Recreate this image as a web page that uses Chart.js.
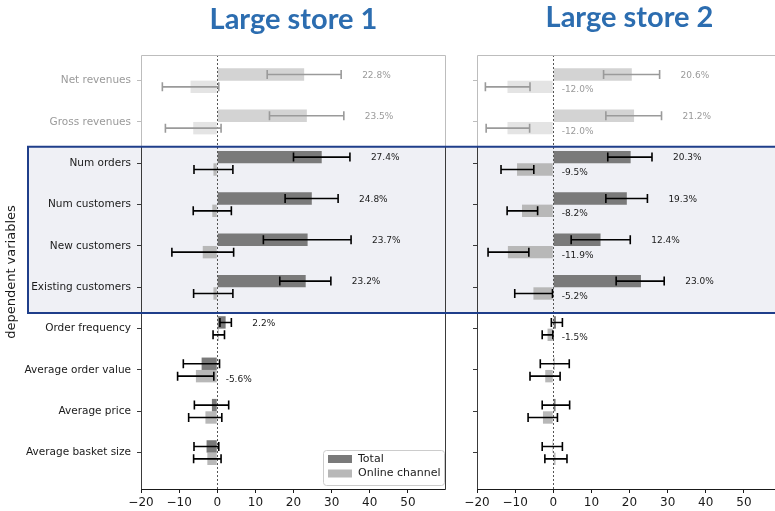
<!DOCTYPE html>
<html>
<head>
<meta charset="utf-8">
<script src="https://cdn.jsdelivr.net/npm/chart.js@4.4.1/dist/chart.umd.min.js"></script>
<style>
  html, body { margin: 0; padding: 0; background: #ffffff; overflow: hidden; }
  #wrap { position: relative; width: 775px; height: 511px; overflow: hidden; }
  canvas { position: absolute; top: 0; }
  #c1 { left: 0; }
  #c2 { left: 460px; }
</style>
</head>
<body>
<div id="wrap">
  <canvas id="c1" width="460" height="511"></canvas>
  <canvas id="c2" width="330" height="511"></canvas>
</div>
<script>
// Effect estimates (%) with confidence bounds, one row per dependent variable.
const categories = [
  'Net revenues', 'Gross revenues', 'Num orders', 'Num customers', 'New customers',
  'Existing customers', 'Order frequency', 'Average order value', 'Average price', 'Average basket size'
];
const xTicks = [-20, -10, 0, 10, 20, 30, 40, 50];
const seriesNames = ['Total', 'Online channel'];

// Large store 1
const store1Total    = [22.8, 23.5, 27.4, 24.8, 23.7, 23.2, 2.2, -4.1, -1.4, -2.8];
const store1TotalLo  = [13.1, 13.7, 20.0, 17.8, 12.1, 16.4, 0.7, -8.9, -6.0, -6.1];
const store1TotalHi  = [32.5, 33.2, 34.8, 31.7, 35.1, 29.8, 3.7, 0.6, 3.0, 0.4];
const store1Online   = [-7.0, -6.3, -1.0, -1.3, -3.8, -1.0, 0.4, -5.6, -3.1, -2.6];
const store1OnlineLo = [-14.4, -13.6, -6.1, -6.3, -11.9, -6.2, -1.1, -10.4, -7.5, -6.2];
const store1OnlineHi = [0.4, 1.0, 4.1, 3.7, 4.3, 4.1, 1.9, -0.9, 1.2, 1.0];

// Large store 2
const store2Total    = [20.6, 21.2, 20.3, 19.3, 12.4, 23.0, 0.7, 0.3, 0.6, -0.2];
const store2TotalLo  = [13.2, 13.8, 14.3, 13.8, 4.7, 16.5, -0.5, -3.4, -2.9, -2.9];
const store2TotalHi  = [27.9, 28.4, 25.9, 24.7, 20.2, 29.1, 2.4, 4.2, 4.3, 2.4];
const store2Online   = [-12.0, -12.0, -9.5, -8.2, -11.9, -5.2, -1.5, -2.1, -2.7, 0.6];
const store2OnlineLo = [-17.8, -17.6, -13.7, -12.1, -17.1, -10.1, -2.9, -6.1, -6.6, -2.2];
const store2OnlineHi = [-6.1, -6.2, -5.1, -4.1, -6.4, -0.2, -0.1, 1.8, 1.1, 3.6];

// Styling
const MUTED_ROWS = 2;               // leading rows drawn in muted grey
const BOX_SPAN = [1.6, 5.62];       // highlighted block, in row units
const COLORS = {
  total: '#7a7a7a', totalMuted: '#d3d3d3',
  online: '#b8b8b8', onlineMuted: '#e4e4e4',
  err: '#000000', errMuted: '#9a9a9a',
  text: '#1a1a1a', textMuted: '#9a9a9a',
  boxFill: '#eff0f5', boxEdge: '#1f3e8a',
  title: '#2c6db0'
};
const muted = i => i < MUTED_ROWS;

Chart.defaults.font.family = 'DejaVu Sans';
Chart.defaults.color = COLORS.text;

const decor = {
  id: 'decor',
  beforeDraw(chart, args, o) {
    const { ctx, scales: { y } } = chart;
    const top = y.getPixelForValue(BOX_SPAN[0]);
    const bottom = y.getPixelForValue(BOX_SPAN[1]);
    ctx.save();
    ctx.fillStyle = COLORS.boxFill;
    ctx.fillRect(o.boxLeft, top, chart.width - o.boxLeft, bottom - top);
    ctx.restore();
  },
  afterDatasetsDraw(chart) {
    const { ctx, chartArea: a, scales: { x, y } } = chart;
    ctx.save();
    // dotted zero line
    const x0 = Math.round(x.getPixelForValue(0)) + 0.5;
    ctx.strokeStyle = '#555555';
    ctx.lineWidth = 1;
    ctx.setLineDash([2, 2]);
    ctx.beginPath(); ctx.moveTo(x0, a.top); ctx.lineTo(x0, a.bottom); ctx.stroke();
    ctx.setLineDash([]);

    // error bars and value labels
    chart.data.datasets.forEach((ds, di) => {
      const meta = chart.getDatasetMeta(di);
      meta.data.forEach((bar, i) => {
        const lo = ds.errLo[i], hi = ds.errHi[i], v = ds.data[i].x;
        const xl = x.getPixelForValue(lo), xh = x.getPixelForValue(hi), yc = bar.y;
        ctx.strokeStyle = muted(i) ? COLORS.errMuted : COLORS.err;
        ctx.lineWidth = 1.6;
        ctx.beginPath();
        ctx.moveTo(xl, yc); ctx.lineTo(xh, yc);
        ctx.moveTo(xl, yc - 4.5); ctx.lineTo(xl, yc + 4.5);
        ctx.moveTo(xh, yc - 4.5); ctx.lineTo(xh, yc + 4.5);
        ctx.stroke();
        // label only where the interval excludes zero
        if (lo > 0 || hi < 0) {
          ctx.fillStyle = muted(i) ? COLORS.textMuted : COLORS.text;
          ctx.font = '9px "DejaVu Sans"';
          ctx.textAlign = 'left';
          ctx.textBaseline = 'middle';
          const tx = v > 0 ? x.getPixelForValue(hi + 5.5) : x.getPixelForValue(2.2);
          const ty = yc + (v > 0 ? 1 : 3);
          ctx.fillText(v.toFixed(1) + '%', tx, ty);
        }
      });
    });

    // axes frame
    const split = y.getPixelForValue(BOX_SPAN[0]);
    const L = a.left + 0.5, R = Math.round(a.right) - 0.5, T = Math.round(a.top) + 0.5, B = Math.round(a.bottom) + 0.5;
    ctx.lineWidth = 1;
    ctx.strokeStyle = '#bdbdbd';
    ctx.beginPath();
    ctx.moveTo(L, split); ctx.lineTo(L, T); ctx.lineTo(R, T); ctx.lineTo(R, split);
    ctx.stroke();
    ctx.strokeStyle = '#3a3a3a';
    ctx.beginPath();
    ctx.moveTo(L, split); ctx.lineTo(L, B);
    ctx.moveTo(R, split); ctx.lineTo(R, B);
    ctx.stroke();
    ctx.strokeStyle = '#1a1a1a';
    ctx.beginPath(); ctx.moveTo(L, B); ctx.lineTo(R, B); ctx.stroke();
    ctx.restore();
  },
  afterDraw(chart, args, o) {
    const { ctx, chartArea: a, scales: { y } } = chart;
    const top = y.getPixelForValue(BOX_SPAN[0]);
    const bottom = y.getPixelForValue(BOX_SPAN[1]);
    ctx.save();
    ctx.strokeStyle = COLORS.boxEdge;
    ctx.lineWidth = 2;
    ctx.beginPath();
    if (o.boxEdge) {
      ctx.moveTo(chart.width, top); ctx.lineTo(o.boxLeft + 1, top);
      ctx.lineTo(o.boxLeft + 1, bottom); ctx.lineTo(chart.width, bottom);
    } else {
      ctx.moveTo(chart.width, top); ctx.lineTo(0, top);
      ctx.moveTo(0, bottom); ctx.lineTo(chart.width, bottom);
    }
    ctx.stroke();

    if (o.legend) {
      const w = 121, h = 35;
      const lx = a.right - 2 - w, ly = a.bottom - 4 - h;
      ctx.fillStyle = 'rgba(255,255,255,0.85)';
      ctx.strokeStyle = '#cccccc';
      ctx.lineWidth = 1;
      ctx.beginPath();
      ctx.roundRect(lx + 0.5, ly + 0.5, w, h, 3);
      ctx.fill(); ctx.stroke();
      ctx.font = '11px "DejaVu Sans"';
      ctx.textAlign = 'left';
      ctx.textBaseline = 'middle';
      chart.data.datasets.forEach((ds, di) => {
        const cy = ly + 9 + di * 14.5;
        ctx.fillStyle = ds.swatch;
        ctx.fillRect(lx + 5, cy - 4, 24, 8);
        ctx.fillStyle = COLORS.text;
        ctx.fillText(ds.label, lx + 35, cy);
      });
    }
    ctx.restore();
  }
};

function makeChart(canvasId, title, titlePad, yWidth, rightPad, showLabels, total, totalLo, totalHi, online, onlineLo, onlineHi, decorOpts) {
  return new Chart(document.getElementById(canvasId), {
    type: 'bar',
    data: {
      datasets: [
        {
          label: seriesNames[0],
          data: total.map((v, i) => ({ x: v, y: i })),
          errLo: totalLo, errHi: totalHi,
          swatch: COLORS.total,
          backgroundColor: c => muted(c.dataIndex) ? COLORS.totalMuted : COLORS.total
        },
        {
          label: seriesNames[1],
          data: online.map((v, i) => ({ x: v, y: i })),
          errLo: onlineLo, errHi: onlineHi,
          swatch: COLORS.online,
          backgroundColor: c => muted(c.dataIndex) ? COLORS.onlineMuted : COLORS.online
        }
      ]
    },
    options: {
      indexAxis: 'y',
      responsive: false,
      animation: false,
      events: [],
      categoryPercentage: 0.6,
      barPercentage: 1.0,
      borderWidth: 0,
      layout: { padding: { left: 0, right: rightPad, top: 0, bottom: 0 } },
      scales: {
        y: {
          type: 'linear',
          reverse: true,
          min: -0.62,
          max: 9.88,
          offset: false,
          afterBuildTicks: s => { s.ticks = categories.map((_, i) => ({ value: i })); },
          afterFit: s => { s.width = yWidth; },
          ticks: {
            autoSkip: false,
            padding: 6,
            font: { size: 10.5 },
            color: c => muted(c.tick.value) ? COLORS.textMuted : COLORS.text,
            callback: v => showLabels ? categories[v] : ''
          },
          grid: {
            offset: false,
            drawOnChartArea: false,
            drawTicks: true,
            tickLength: 4,
            color: c => (c.tick && muted(c.tick.value)) ? '#bdbdbd' : '#3a3a3a'
          },
          border: { display: false },
          title: {
            display: showLabels,
            text: 'dependent variables',
            font: { size: 13 },
            color: COLORS.text,
            padding: { top: 4, bottom: 0 }
          }
        },
        x: {
          type: 'linear',
          min: -20,
          max: 60,
          afterBuildTicks: s => { s.ticks = xTicks.map(v => ({ value: v })); },
          afterFit: s => { s.height = 22; },
          ticks: {
            padding: 3,
            font: { size: 12 },
            color: COLORS.text,
            callback: v => v < 0 ? '\u2212' + Math.abs(v) : String(v)
          },
          grid: {
            drawOnChartArea: false,
            drawTicks: true,
            tickLength: 4,
            color: '#1a1a1a'
          },
          border: { display: false }
        }
      },
      plugins: {
        legend: { display: false },
        tooltip: { enabled: false },
        title: {
          display: true,
          text: title,
          fullSize: false,
          color: COLORS.title,
          font: { family: 'Lato', size: 29, weight: 'bold' },
          padding: titlePad
        },
        decor: decorOpts
      }
    },
    plugins: [decor]
  });
}

makeChart('c1', 'Large store 1', { top: 2, bottom: 18.2 }, 141, 14, true,
  store1Total, store1TotalLo, store1TotalHi, store1Online, store1OnlineLo, store1OnlineHi,
  { boxLeft: 27, boxEdge: true, legend: true });

makeChart('c2', 'Large store 2', { top: 0, bottom: 20.2 }, 17, 8, false,
  store2Total, store2TotalLo, store2TotalHi, store2Online, store2OnlineLo, store2OnlineHi,
  { boxLeft: 0, boxEdge: false, legend: false });
</script>
</body>
</html>
